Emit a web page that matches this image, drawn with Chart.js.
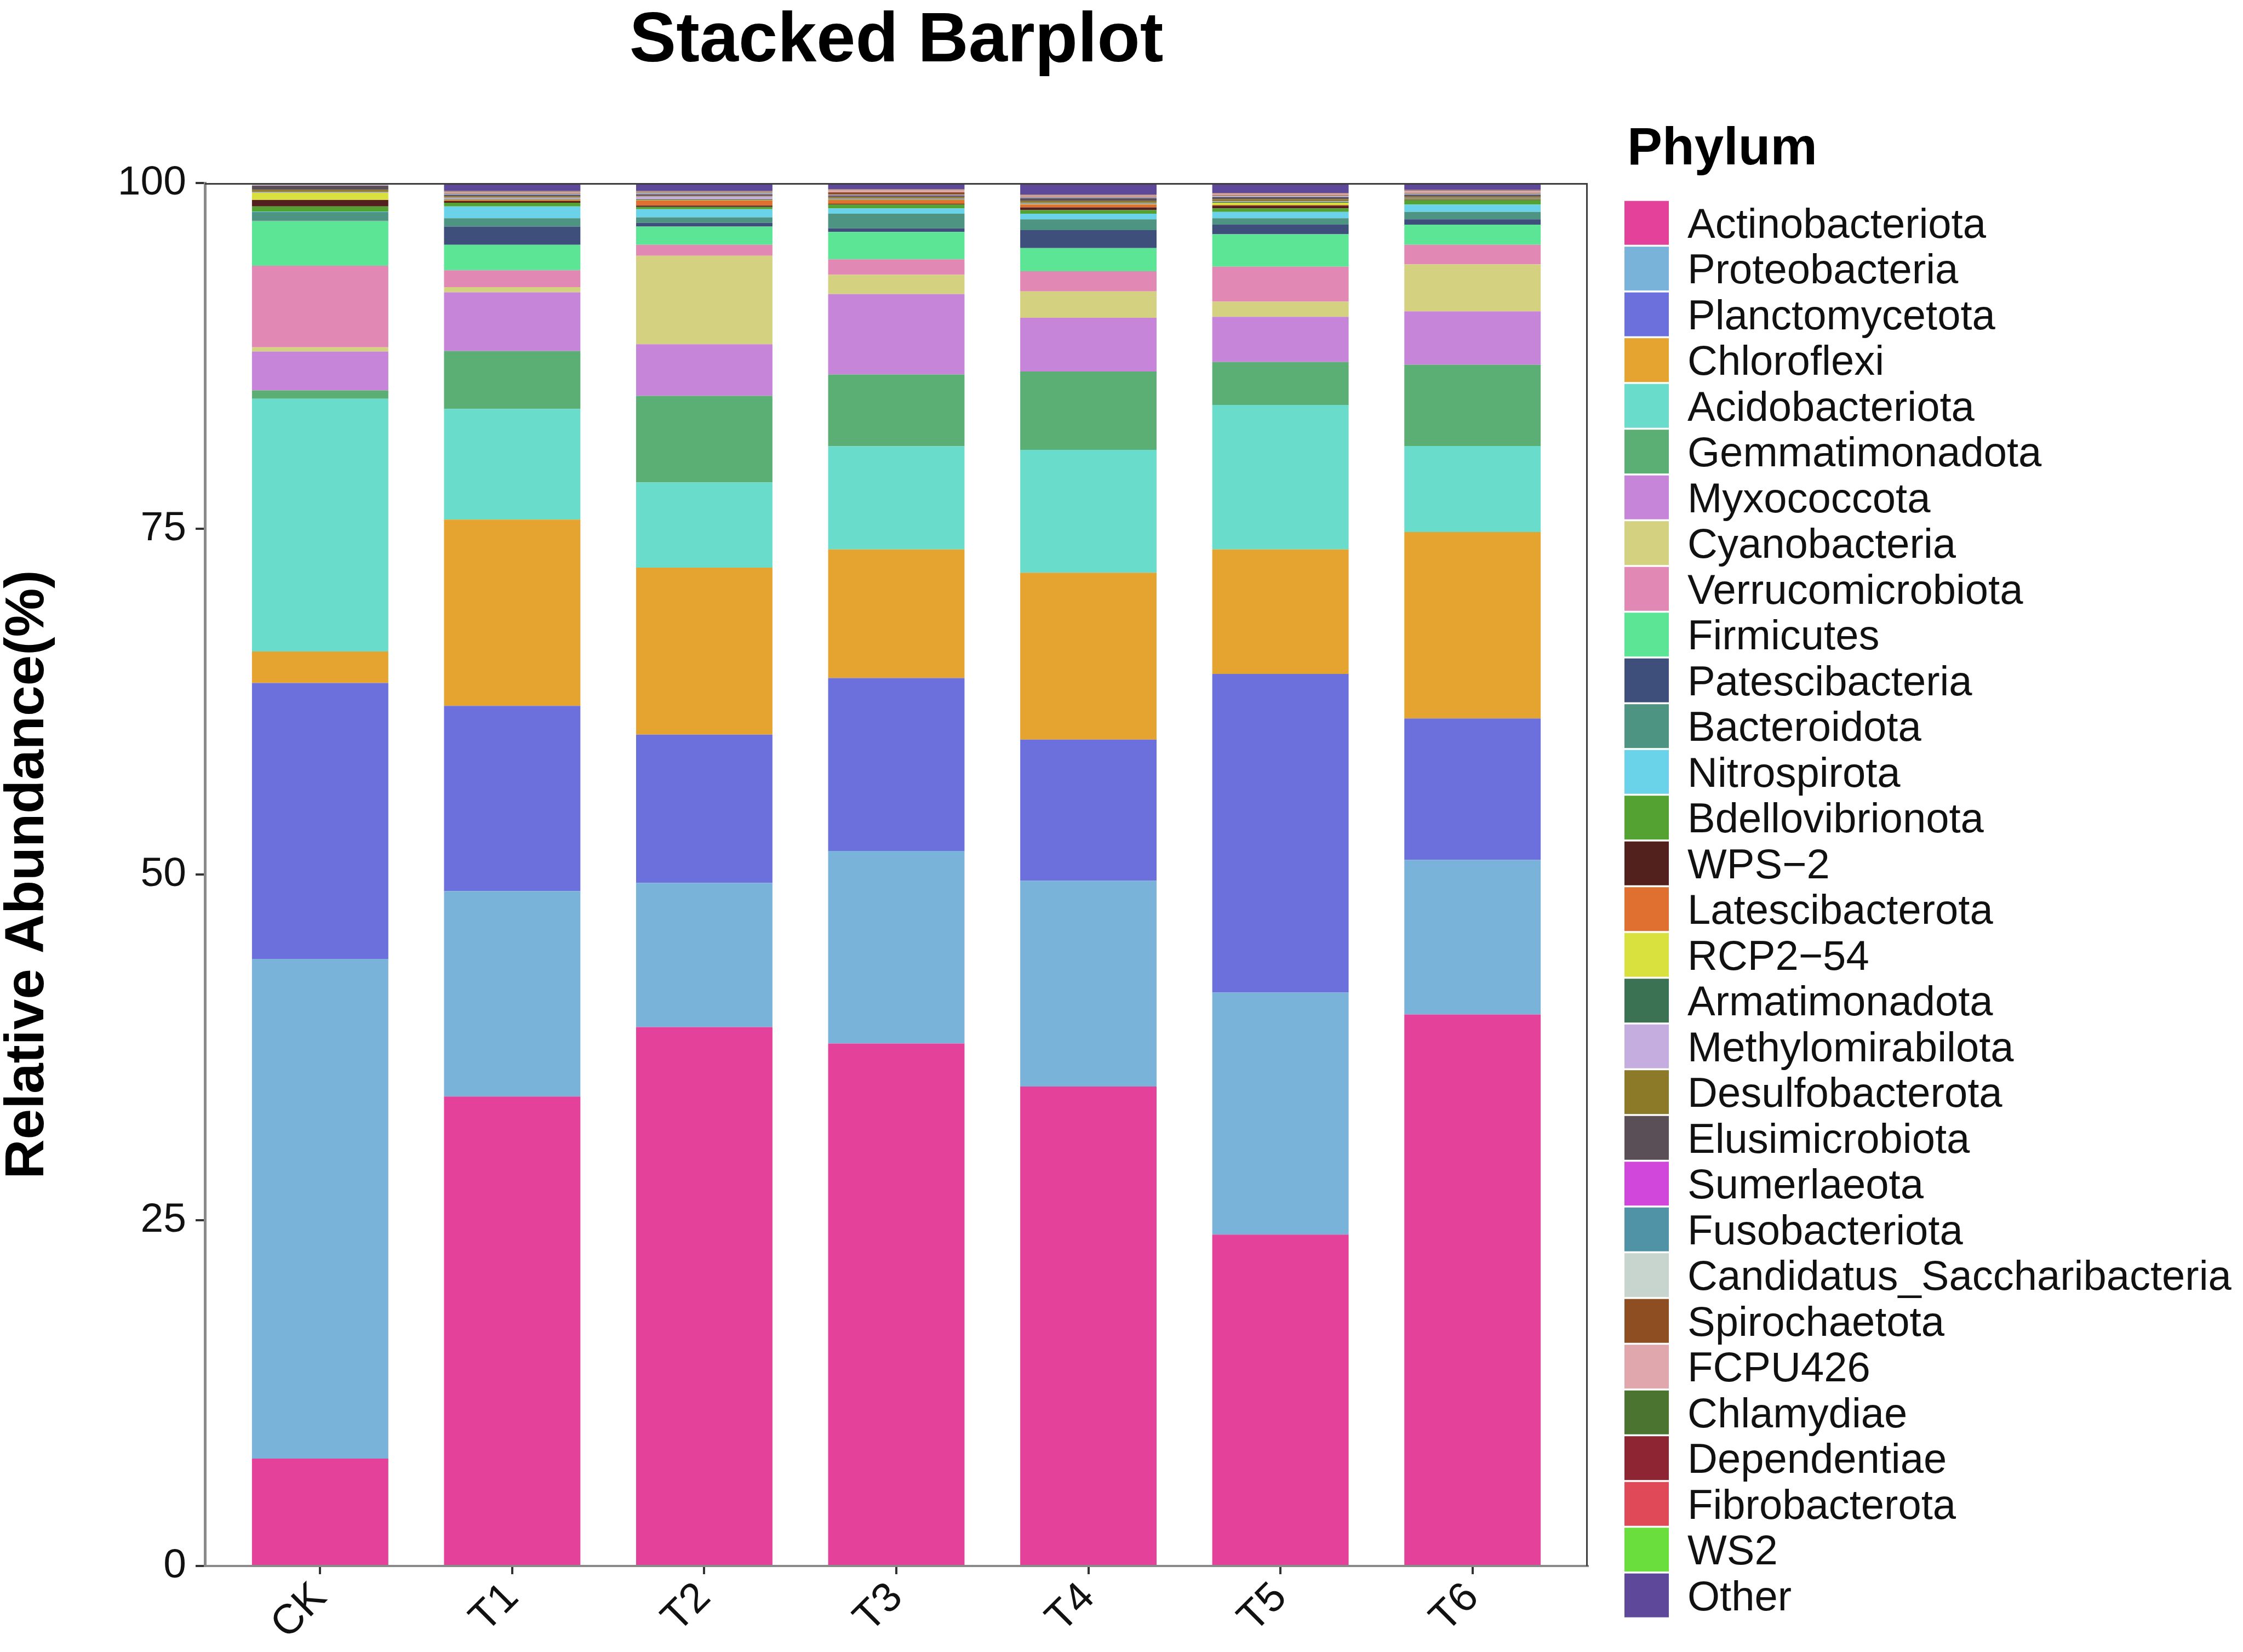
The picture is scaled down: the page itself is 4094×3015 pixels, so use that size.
<!DOCTYPE html>
<html>
<head>
<meta charset="utf-8">
<script src="https://cdn.jsdelivr.net/npm/chart.js@4.4.1/dist/chart.umd.min.js"></script>
<style>
html,body{margin:0;padding:0;background:#ffffff;}
canvas{display:block;}
</style>
</head>
<body>
<canvas id="c" width="4094" height="3015" style="width:4094px;height:3015px"></canvas>
<script>
// ---------------- data ----------------
const samples = ['CK', 'T1', 'T2', 'T3', 'T4', 'T5', 'T6'];
const samplePositions = [1, 2, 3, 4, 5, 6, 7];
const yTicks = [0, 25, 50, 75, 100];

const phyla = ['Actinobacteriota','Proteobacteria','Planctomycetota','Chloroflexi','Acidobacteriota',
  'Gemmatimonadota','Myxococcota','Cyanobacteria','Verrucomicrobiota','Firmicutes','Patescibacteria',
  'Bacteroidota','Nitrospirota','Bdellovibrionota','WPS\u22122','Latescibacterota','RCP2\u221254',
  'Armatimonadota','Methylomirabilota','Desulfobacterota','Elusimicrobiota','Sumerlaeota',
  'Fusobacteriota','Candidatus_Saccharibacteria','Spirochaetota','FCPU426','Chlamydiae',
  'Dependentiae','Fibrobacterota','WS2','Other'];

const phylumColors = ['#E3419A','#7AB3DA','#6C70DC','#E5A42F','#6ADCCB','#5BAF74','#C685D8','#D4D181',
  '#E188B5','#5BE594','#3E4F7C','#4E9483','#6AD2E9','#54A232','#53211D','#E0702F','#D8E13E','#3B7254',
  '#C6ADE0','#8D7A28','#5A4E57','#D147DC','#5093A6','#C8D5CF','#8E4E22','#E0A8AD','#4B7430','#8D2632',
  '#E04A58','#6ADE3C','#5E4899'];

// relative abundance (%) per sample: CK, T1, T2, T3, T4, T5, T6
const Actinobacteriota  = [7.77, 33.94, 38.97, 37.78, 34.67, 23.96, 39.88];
const Proteobacteria    = [36.13, 14.86, 10.43, 13.92, 14.87, 17.50, 11.17];
const Planctomycetota   = [19.95, 13.39, 10.71, 12.50, 10.22, 23.04, 10.23];
const Chloroflexi       = [2.28, 13.47, 12.08, 9.30, 12.06, 9.00, 13.48];
const Acidobacteriota   = [18.27, 8.01, 6.16, 7.46, 8.89, 10.45, 6.22];
const Gemmatimonadota   = [0.60, 4.18, 6.26, 5.19, 5.66, 3.10, 5.88];
const Myxococcota       = [2.82, 4.25, 3.73, 5.82, 3.88, 3.27, 3.86];
const Cyanobacteria     = [0.30, 0.37, 6.40, 1.39, 1.92, 1.10, 3.40];
const Verrucomicrobiota = [5.90, 1.22, 0.79, 1.12, 1.45, 2.53, 1.41];
const Firmicutes        = [3.23, 1.84, 1.32, 1.98, 1.68, 2.35, 1.46];
const Patescibacteria   = [0.03, 1.32, 0.27, 0.26, 1.29, 0.69, 0.39];
const Bacteroidota      = [0.62, 0.60, 0.39, 1.06, 0.79, 0.46, 0.53];
const Nitrospirota      = [0.04, 0.86, 0.60, 0.39, 0.40, 0.46, 0.53];
const Bdellovibrionota  = [0.37, 0.26, 0.16, 0.27, 0.26, 0.26, 0.33];
const WPS_2             = [0.46, 0.12, 0.10, 0.05, 0.20, 0.20, 0.03];
const Latescibacterota  = [0.01, 0.08, 0.37, 0.28, 0.20, 0.05, 0.03];
const RCP2_54           = [0.52, 0.02, 0.03, 0.02, 0.03, 0.15, 0.02];
const Armatimonadota    = [0.02, 0.05, 0.05, 0.05, 0.05, 0.06, 0.04];
const Methylomirabilota = [0.05, 0.10, 0.20, 0.05, 0.04, 0.05, 0.03];
const Desulfobacterota  = [0.13, 0.10, 0.05, 0.10, 0.14, 0.15, 0.10];
const Elusimicrobiota   = [0.30, 0.10, 0.10, 0.10, 0.20, 0.15, 0.13];
const Sumerlaeota       = [0.01, 0.02, 0.02, 0.02, 0.02, 0.02, 0.02];
const Fusobacteriota    = [0.01, 0.04, 0.05, 0.03, 0.03, 0.03, 0.03];
const Candidatus_Saccharibacteria = [0.03, 0.03, 0.03, 0.03, 0.02, 0.05, 0.03];
const Spirochaetota     = [0.01, 0.05, 0.05, 0.16, 0.03, 0.05, 0.05];
const FCPU426           = [0.01, 0.08, 0.04, 0.16, 0.10, 0.10, 0.15];
const Chlamydiae        = [0.01, 0.02, 0.02, 0.02, 0.02, 0.02, 0.02];
const Dependentiae      = [0.01, 0.02, 0.02, 0.02, 0.02, 0.02, 0.02];
const Fibrobacterota    = [0.01, 0.01, 0.01, 0.01, 0.01, 0.01, 0.01];
const WS2               = [0.01, 0.01, 0.01, 0.01, 0.01, 0.01, 0.01];
const Other             = [0.09, 0.58, 0.58, 0.45, 0.84, 0.71, 0.51];

const seriesValues = [Actinobacteriota, Proteobacteria, Planctomycetota, Chloroflexi, Acidobacteriota,
  Gemmatimonadota, Myxococcota, Cyanobacteria, Verrucomicrobiota, Firmicutes, Patescibacteria,
  Bacteroidota, Nitrospirota, Bdellovibrionota, WPS_2, Latescibacterota, RCP2_54, Armatimonadota,
  Methylomirabilota, Desulfobacterota, Elusimicrobiota, Sumerlaeota, Fusobacteriota,
  Candidatus_Saccharibacteria, Spirochaetota, FCPU426, Chlamydiae, Dependentiae, Fibrobacterota, WS2, Other];

// ---------------- chart ----------------
const FONT = '"Liberation Sans", Arial, Helvetica, sans-serif';
Chart.defaults.font.family = FONT;

const datasets = phyla.map((name, k) => ({
  label: name,
  data: seriesValues[k].map((v, i) => ({ x: samplePositions[i], y: v })),
  backgroundColor: phylumColors[k],
  borderWidth: 0,
  barPercentage: 0.71,
  categoryPercentage: 1.0
}));

const decor = {
  id: 'decor',
  afterDraw(chart) {
    const { ctx, chartArea: a } = chart;
    ctx.save();
    // panel border (top & right)
    ctx.strokeStyle = '#3d3d3d';
    ctx.lineWidth = 3;
    ctx.beginPath();
    ctx.moveTo(a.left, a.top + 1.5);
    ctx.lineTo(a.right - 1.5, a.top + 1.5);
    ctx.lineTo(a.right - 1.5, a.bottom);
    ctx.stroke();

    // plot title
    ctx.fillStyle = '#000000';
    ctx.font = 'bold 128px ' + FONT;
    ctx.textAlign = 'center';
    ctx.textBaseline = 'alphabetic';
    ctx.fillText('Stacked Barplot', (a.left + a.right) / 2, 112);

    // legend
    const lx = 2965, ly = 366.7, pitch = 83.5, kw = 81, kh = 80;
    ctx.textAlign = 'left';
    ctx.font = 'bold 96px ' + FONT;
    ctx.fillText('Phylum', 2970, 300);
    ctx.font = '76px ' + FONT;
    chart.data.datasets.forEach((ds, i) => {
      const top = ly + i * pitch;
      ctx.fillStyle = ds.backgroundColor;
      ctx.fillRect(lx, top, kw, kh);
      ctx.fillStyle = '#111111';
      ctx.fillText(ds.label, 3080, top + kh / 2 + 27);
    });
    ctx.restore();
  }
};

new Chart(document.getElementById('c'), {
  type: 'bar',
  data: { datasets },
  options: {
    responsive: false,
    devicePixelRatio: 1,
    animation: false,
    parsing: true,
    layout: { padding: { top: 334, right: 1196, bottom: 0, left: 0 } },
    plugins: {
      legend: { display: false },
      tooltip: { enabled: false },
      title: { display: false }
    },
    scales: {
      x: {
        type: 'linear',
        stacked: true,
        min: 0.4,
        max: 7.6,
        offset: false,
        z: 1,
        afterBuildTicks: (axis) => { axis.ticks = samplePositions.map(v => ({ value: v })); },
        afterFit: (axis) => { axis.height = 157; },
        grid: { display: true, drawOnChartArea: false, drawTicks: true, offset: false,
                tickLength: 15, color: '#333333', lineWidth: 4 },
        border: { display: true, color: '#8a8a8a', width: 4 },
        ticks: {
          autoSkip: false,
          minRotation: 45,
          maxRotation: 45,
          padding: 12,
          color: '#111111',
          font: { size: 76, lineHeight: 0.7 },
          callback: (value, index) => samples[samplePositions.indexOf(value)] ?? ''
        }
      },
      y: {
        type: 'linear',
        stacked: true,
        min: 0,
        max: 100,
        z: 1,
        afterBuildTicks: (axis) => { axis.ticks = yTicks.map(v => ({ value: v })); },
        afterFit: (axis) => { axis.width = 374; },
        grid: { display: true, drawOnChartArea: false, drawTicks: true,
                tickLength: 17, color: '#333333', lineWidth: 4 },
        border: { display: true, color: '#8a8a8a', width: 5 },
        ticks: { padding: 17, color: '#111111', font: { size: 75 } },
        title: {
          display: true,
          text: 'Relative Abundance(%)',
          color: '#000000',
          font: { size: 100, weight: 'bold', lineHeight: 1 },
          padding: { top: 1, bottom: 0 }
        }
      }
    }
  },
  plugins: [decor]
});
</script>
</body>
</html>
